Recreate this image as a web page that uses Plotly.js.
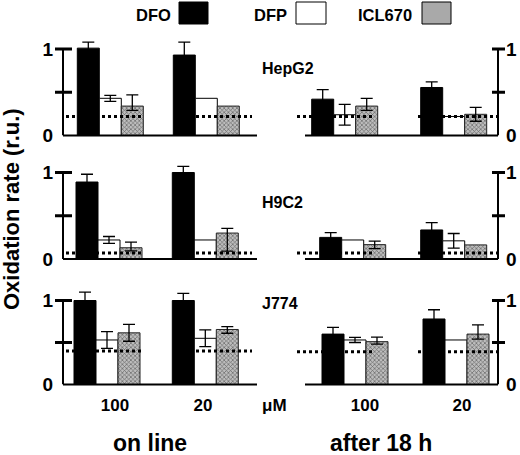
<!DOCTYPE html>
<html>
<head>
<meta charset="utf-8">
<script src="https://cdn.plot.ly/plotly-3.0.1.min.js"></script>
<style>
  body { margin: 0; background: #fff; }
  #plot { width: 520px; height: 455px; }
</style>
</head>
<body>
<div id="plot"></div>
<script>
// doses (x tick labels), cell lines (one row each), drugs (legend)
var doses = ['100', '20'];
var cellLines = ['HepG2', 'H9C2', 'J774'];
var drugs = ['DFO', 'DFP', 'ICL670'];

// "on line" values, rows = cell lines, columns = doses
var dfoOn = [[1.01, 0.93], [0.89, 1.00], [1.00, 1.00]];
var dfoOnErr = [[0.07, 0.15], [0.09, 0.07], [0.10, 0.085]];
var dfpOn = [[0.43, 0.43], [0.22, 0.22], [0.53, 0.55]];
var dfpOnErr = [[0.035, NaN], [0.04, NaN], [0.10, 0.10]];
var iclOn = [[0.34, 0.34], [0.13, 0.30], [0.615, 0.655]];
var iclOnErrUp = [[0.13, NaN], [0.065, 0.055], [0.10, 0.035]];
var iclOnErrDown = [[0.05, NaN], [0.035, 0.21], [0.10, 0.045]];
var ctrlOn = [0.22, 0.07, 0.40];

// "after 18 h" values
var dfoAfter = [[0.42, 0.555], [0.25, 0.336], [0.60, 0.78]];
var dfoAfterErr = [[0.11, 0.065], [0.055, 0.085], [0.08, 0.11]];
var dfpAfter = [[0.24, 0.22], [0.22, 0.21], [0.53, 0.53]];
var dfpAfterErr = [[0.12, NaN], [NaN, 0.085], [0.03, NaN]];
var iclAfter = [[0.34, 0.245], [0.166, 0.163], [0.51, 0.60]];
var iclAfterErrUp = [[0.09, 0.08], [0.04, NaN], [0.055, 0.11]];
var iclAfterErrDown = [[0.05, 0.08], [0.045, NaN], [0.03, 0.06]];
var ctrlAfter = [0.22, 0.07, 0.39];

var yTickVals = [0, 1];
var yTickText = ['0', '1'];
var yMarks = [0.5, 1];

var W = 520, H = 455;
var FONT = 'Arial, "Liberation Sans", sans-serif';

// pixel geometry of the rows / columns
var rows = [
  { zero: 135.5, unit: 86.5 },
  { zero: 259, unit: 86.5 },
  { zero: 384.5, unit: 84 }
];
var cols = [
  { d0: 63, d1: 257, base: [63, 257], axisAt: 0, side: 'left',
    centers: [[110.3, 206.3], [109, 205.3], [107, 205.3]],
    dots: [[66, 141], [196, 252]], labels: [115, 203], tick: [-8, 9], standoff: 9 },
  { d0: 294, d1: 498, base: [305, 498], axisAt: 1, side: 'right',
    centers: [[344.7, 453.7], [352.7, 453.7], [355, 456]],
    dots: [[297, 374], [418, 497]], labels: [365, 462], tick: [-6, 7], standoff: 7 }
];

var panels = [
  { dfo: dfoOn, dfoErr: dfoOnErr, dfp: dfpOn, dfpErr: dfpOnErr,
    icl: iclOn, iclUp: iclOnErrUp, iclDown: iclOnErrDown, ctrl: ctrlOn },
  { dfo: dfoAfter, dfoErr: dfoAfterErr, dfp: dfpAfter, dfpErr: dfpAfterErr,
    icl: iclAfter, iclUp: iclAfterErrUp, iclDown: iclAfterErrDown, ctrl: ctrlAfter }
];

function toX(c, r, p) {
  var cc = cols[c].centers[r];
  return (p - cc[0]) / (cc[1] - cc[0]);
}

var data = [];
var layout = {
  width: W, height: H,
  margin: { l: 0, r: 0, t: 0, b: 0 },
  paper_bgcolor: 'white', plot_bgcolor: 'white',
  showlegend: false,
  barmode: 'overlay',
  font: { family: FONT, color: 'black' },
  shapes: [], annotations: []
};

var groupX = doses.map(function (d, i) { return i; });
var errStyle = { color: 'black', thickness: 1.3, width: 6 };

for (var r = 0; r < 3; r++) {
  for (var c = 0; c < 2; c++) {
    var k = r * 2 + c + 1;
    var xa = 'x' + (k === 1 ? '' : k), ya = 'y' + (k === 1 ? '' : k);
    var col = cols[c], row = rows[r], p = panels[c];
    var cc = col.centers[r];
    var w = 22 / (cc[1] - cc[0]);

    data.push({
      type: 'bar', name: drugs[0], x: groupX, y: p.dfo[r], width: w, offset: -1.5 * w,
      xaxis: xa, yaxis: ya,
      marker: { color: 'black', line: { color: 'black', width: 1 } },
      error_y: Object.assign({ type: 'data', array: p.dfoErr[r] }, errStyle)
    });
    data.push({
      type: 'bar', name: drugs[1], x: groupX, y: p.dfp[r], width: w, offset: -0.5 * w,
      xaxis: xa, yaxis: ya,
      marker: { color: 'white', line: { color: 'black', width: 1 } },
      error_y: Object.assign({ type: 'data', array: p.dfpErr[r] }, errStyle)
    });
    data.push({
      type: 'bar', name: drugs[2], x: groupX, y: p.icl[r], width: w, offset: 0.5 * w,
      xaxis: xa, yaxis: ya,
      marker: {
        color: '#aaaaaa', line: { color: '#222', width: 1 },
        pattern: { shape: 'x', size: 3, solidity: 0.4, fgcolor: '#666666', bgcolor: '#bdbdbd', fillmode: 'replace' }
      },
      error_y: Object.assign({ type: 'data', symmetric: false, array: p.iclUp[r], arrayminus: p.iclDown[r] }, errStyle)
    });

    // dotted control level
    var dx = [], dy = [];
    col.dots.forEach(function (seg, g) {
      if (g > 0) { dx.push(null); dy.push(null); }
      dx.push(toX(c, r, seg[0]), toX(c, r, seg[1]));
      dy.push(p.ctrl[r], p.ctrl[r]);
    });
    data.push({
      type: 'scatter', mode: 'lines', x: dx, y: dy, xaxis: xa, yaxis: ya,
      line: { color: 'black', width: 3, dash: 'dot' }, hoverinfo: 'skip'
    });

    layout['xaxis' + (k === 1 ? '' : k)] = {
      domain: [col.d0 / W, col.d1 / W],
      range: [toX(c, r, col.d0), toX(c, r, col.d1)],
      anchor: ya,
      showline: false, zeroline: false, showgrid: false, ticks: '',
      tickvals: col.labels.map(function (lp) { return toX(c, r, lp); }),
      ticktext: doses,
      showticklabels: r === 2,
      ticklabelstandoff: 8,
      tickfont: { family: FONT, size: 17, weight: 'bold', color: 'black' },
      fixedrange: true
    };
    layout['yaxis' + (k === 1 ? '' : k)] = {
      domain: [1 - row.zero / H, 1 - (row.zero - 1.2 * row.unit) / H],
      range: [0, 1.2],
      anchor: xa, side: col.side,
      showline: false, zeroline: false, showgrid: false, ticks: '',
      tickvals: yTickVals, ticktext: yTickText,
      ticklabelstandoff: col.standoff,
      tickfont: { family: FONT, size: 19, weight: 'bold', color: 'black' },
      fixedrange: true
    };

    // axis lines and crossing tick marks
    layout.shapes.push({
      type: 'line', xref: xa + ' domain', yref: ya,
      x0: col.axisAt, x1: col.axisAt, y0: 0, y1: 1,
      line: { color: 'black', width: 2 }
    });
    layout.shapes.push({
      type: 'line', xref: xa, yref: ya + ' domain',
      x0: toX(c, r, col.base[0]), x1: toX(c, r, col.base[1]), y0: 0, y1: 0,
      line: { color: 'black', width: 2 }
    });
    yMarks.forEach(function (v) {
      layout.shapes.push({
        type: 'line', xref: xa + ' domain', yref: ya,
        xsizemode: 'pixel', xanchor: col.axisAt, x0: col.tick[0], x1: col.tick[1],
        y0: v, y1: v, line: { color: 'black', width: 3 }
      });
    });
  }
}

function note(text, xp, yp, size, extra) {
  var a = {
    text: text, xref: 'paper', yref: 'paper', x: xp / W, y: 1 - yp / H,
    xanchor: 'center', yanchor: 'middle', showarrow: false,
    font: { family: FONT, size: size, weight: 'bold', color: 'black' }
  };
  return Object.assign(a, extra || {});
}

// legend: text then swatch
var legendText = [153, 270, 384.5];
var legendBox = [[179, 208], [296, 326], [422, 451]];
var legendFill = ['black', 'white', '#a9a9a9'];
drugs.forEach(function (d, i) {
  layout.annotations.push(note(d, legendText[i], 15, 16.5));
  layout.shapes.push({
    type: 'rect', xref: 'paper', yref: 'paper',
    x0: legendBox[i][0] / W, x1: legendBox[i][1] / W, y0: 1 - 24 / H, y1: 1 - 2 / H,
    fillcolor: legendFill[i], line: { color: 'black', width: 1 }
  });
});

// cell line labels
var cellY = [68, 202, 303];
cellLines.forEach(function (name, i) {
  layout.annotations.push(note(name, 260, cellY[i], 16, { xanchor: 'left' }));
});

layout.annotations.push(note('\u03bcM', 274, 405, 17));
layout.annotations.push(note('on line', 150, 443, 23));
layout.annotations.push(note('after 18 h', 381, 443, 23));
layout.annotations.push(note('Oxidation rate (r.u.)', 12, 209, 22, { textangle: -90 }));

Plotly.newPlot('plot', data, layout, { staticPlot: true });
</script>
</body>
</html>
